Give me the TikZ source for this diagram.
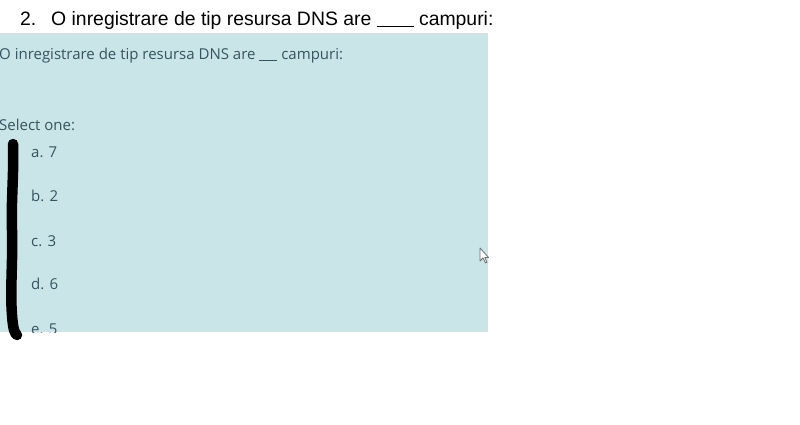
\documentclass[tikz,border=0pt]{standalone}
\usepackage{fontspec}
\setmainfont{Liberation Sans}
\newfontfamily\uifont{Open Sans}
\definecolor{panelbg}{HTML}{CAE5E8}
\definecolor{paneltxt}{HTML}{34555F}
\definecolor{cursorgray}{HTML}{6A6F73}
\begin{document}
\begin{tikzpicture}[x=1pt,y=-1pt,
  titletxt/.style={anchor=base west,inner sep=0pt,font=\fontsize{19.4}{23}\selectfont,text=black},
  uitxt/.style={anchor=base west,inner sep=0pt,font=\uifont\fontsize{15}{18}\selectfont,text=paneltxt},
  scribble/.style={draw=black,line width=10.5pt,line cap=round,line join=round}]
\useasboundingbox (0,0) rectangle (800,424);
\fill[white] (0,0) rectangle (800,424);
% panel
\fill[panelbg] (0,33) rectangle (488,332);
% title
\node[titletxt] (num) at (20,25) {2.};
\node[titletxt] (title) at (51,25) {O inregistrare de tip resursa DNS are \underline{\hspace{1.9em}} campuri:};
\begin{scope}
\clip (0,33) rectangle (488,332);
\node[uitxt] (q) at (-1,59) {O inregistrare de tip resursa DNS are \underline{\hspace{1.2em}} campuri:};
\node[uitxt] (sel) at (-1,130) {Select one:};
\node[uitxt] (oa) at (31,157) {a. 7};
\node[uitxt] (ob) at (31,201) {b. 2};
\node[uitxt] (oc) at (31,246) {c. 3};
\node[uitxt] (od) at (31,289) {d. 6};
\node[uitxt] (oe) at (31,334) {e. 5};
\end{scope}
% scribble
\draw[scribble] (13,144) .. controls (14,175) and (11,200) .. (12,230)
  .. controls (13,260) and (10,290) .. (12,315) .. controls (13,330) and (15,334) .. (17,335);
% cursor
\draw[cursorgray,fill=white,line width=0.8pt,line join=round]
  (480,248) -- (480,261) -- (483,258) -- (485.5,263) -- (487,262.3) -- (484.8,257.5) -- (488.5,257.5) -- cycle;
\end{tikzpicture}
\end{document}
